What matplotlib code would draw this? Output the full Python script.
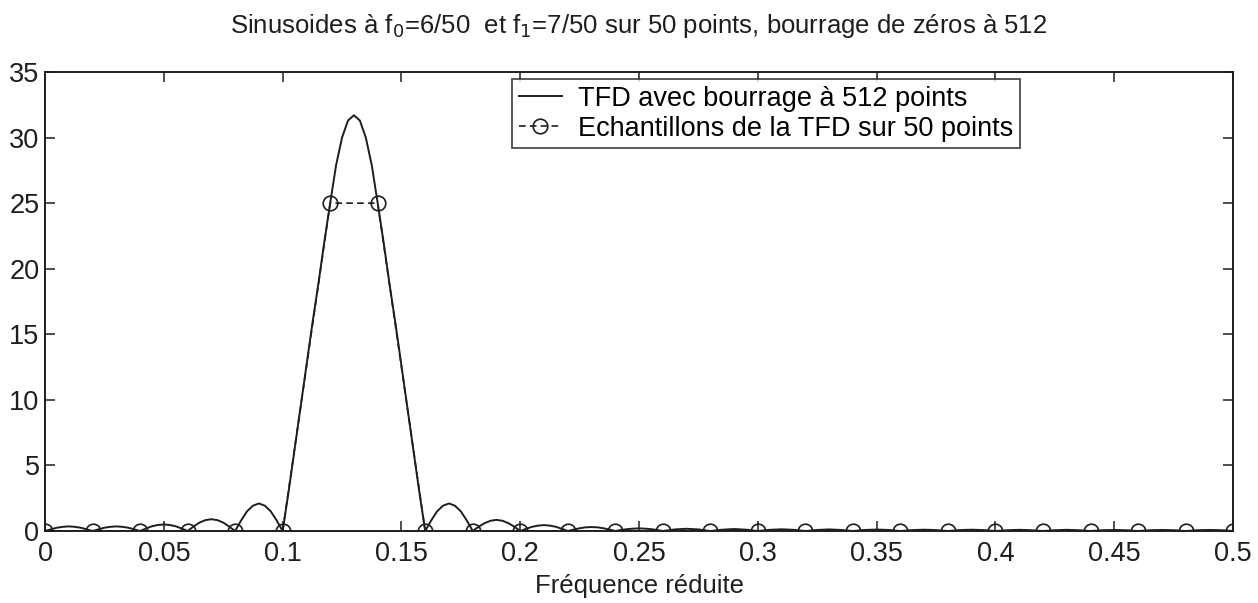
"""Zero-padded DFT of two sinusoids: 512-point curve vs 50-point samples."""
import matplotlib
matplotlib.use('Agg')
import matplotlib.pyplot as plt
import numpy as np

plt.rcParams['font.family'] = ['Liberation Sans', 'DejaVu Sans']

# 512-point padded DFT magnitude
# fine grid (step 0.0025) from 0 to 0.26
freq_fine = np.arange(105) * 0.0025
tfd_fine = (
    [0, .13, .25, .32, .35, .32, .25, .13]             # 0 - 0.02
    + [0, .13, .25, .32, .35, .32, .25, .13]           # 0.02 - 0.04
    + [0, .19, .36, .46, .5, .46, .36, .19]            # 0.04 - 0.06
    + [0, .34, .64, .83, .9, .83, .64, .34]            # 0.06 - 0.08
    + [0, .8, 1.5, 1.93, 2.1, 1.93, 1.5, .8]           # 0.08 - 0.10
    + [0, 3.0, 6.2, 9.4, 12.6, 15.8, 18.8, 22.0, 25.0, 27.9, 30.0, 31.3,
       31.7, 31.3, 30.0, 27.9, 25.0, 22.0, 18.8, 15.8, 12.6, 9.4, 6.2, 3.0]
    + [0, .8, 1.5, 1.93, 2.1, 1.93, 1.5, .8]           # 0.16 - 0.18
    + [0, .33, .6, .78, .85, .78, .6, .33]             # 0.18 - 0.20
    + [0, .17, .32, .41, .45, .41, .32, .17]           # 0.20 - 0.22
    + [0, .11, .21, .28, .3, .28, .21, .11]            # 0.22 - 0.24
    + [0, .08, .14, .18, .2, .18, .14, .08, 0]         # 0.24 - 0.26
)
# coarse grid (step 0.005) from 0.265 to 0.5
freq_coarse = 0.26 + np.arange(1, 49) * 0.005
tfd_coarse = (
    [.12, .17, .12, 0, .1, .15, .1, 0, .09, .13, .09, 0,
     .08, .12, .08, 0, .08, .11, .08, 0, .07, .1, .07, 0,
     .07, .1, .07, 0, .06, .09, .06, 0, .06, .09, .06, 0,
     .06, .08, .06, 0, .06, .08, .06, 0, .06, .08, .06, 0]
)
freq_512 = np.concatenate([freq_fine, freq_coarse])
tfd_512 = np.array(tfd_fine + tfd_coarse)

# 50-point DFT samples at k/50
freq_50 = np.arange(26) / 50
tfd_50 = [0, 0, 0, 0, 0, 0, 25, 25, 0, 0, 0, 0, 0,
          0, 0, 0, 0, 0, 0, 0, 0, 0, 0, 0, 0, 0]

ink = '#1e1e1e'

fig = plt.figure(figsize=(12.58, 6.03), dpi=100)
ax = fig.add_axes([0.0358, 0.1194, 0.9444, 0.7612])

ax.plot(freq_512, tfd_512, color=ink, lw=1.4,
        label='TFD avec bourrage à 512 points')
ax.plot(freq_50, tfd_50, color=ink, lw=1.2, ls=(0, (4, 2.5)),
        marker='o', ms=10.5, mfc='none', mec=ink, mew=1.2,
        label='Echantillons de la TFD sur 50 points')

ax.set_xlim(0, 0.5)
ax.set_ylim(0, 35)
ax.set_xticks(np.arange(0, 0.501, 0.05))
ax.set_xticklabels(['0', '0.05', '0.1', '0.15', '0.2', '0.25', '0.3',
                    '0.35', '0.4', '0.45', '0.5'])
ax.set_yticks(np.arange(0, 36, 5))
ax.tick_params(direction='in', length=7, width=1.1, top=True, right=True,
               labelsize=19.5, colors=ink, pad=4)
ax.tick_params(axis='x', pad=7)
for s in ax.spines.values():
    s.set_linewidth(1.4)
    s.set_color(ink)

ax.set_xlabel('Fréquence réduite', fontsize=18.5, color=ink, labelpad=5)
ax.set_title('Sinusoides à f$_0$=6/50  et f$_1$=7/50 sur 50 points, '
             'bourrage de zéros à 512', fontsize=18.5, color=ink, pad=28)

leg = ax.legend(loc='upper left', bbox_to_anchor=(0.393, 0.985), fontsize=19.5,
                frameon=True, fancybox=False, handlelength=1.6,
                borderpad=0.25, labelspacing=0.15, handletextpad=0.6,
                borderaxespad=0)
leg.get_frame().set_edgecolor(ink)
leg.get_frame().set_linewidth(1.3)

fig.savefig('out.png', dpi=100)
